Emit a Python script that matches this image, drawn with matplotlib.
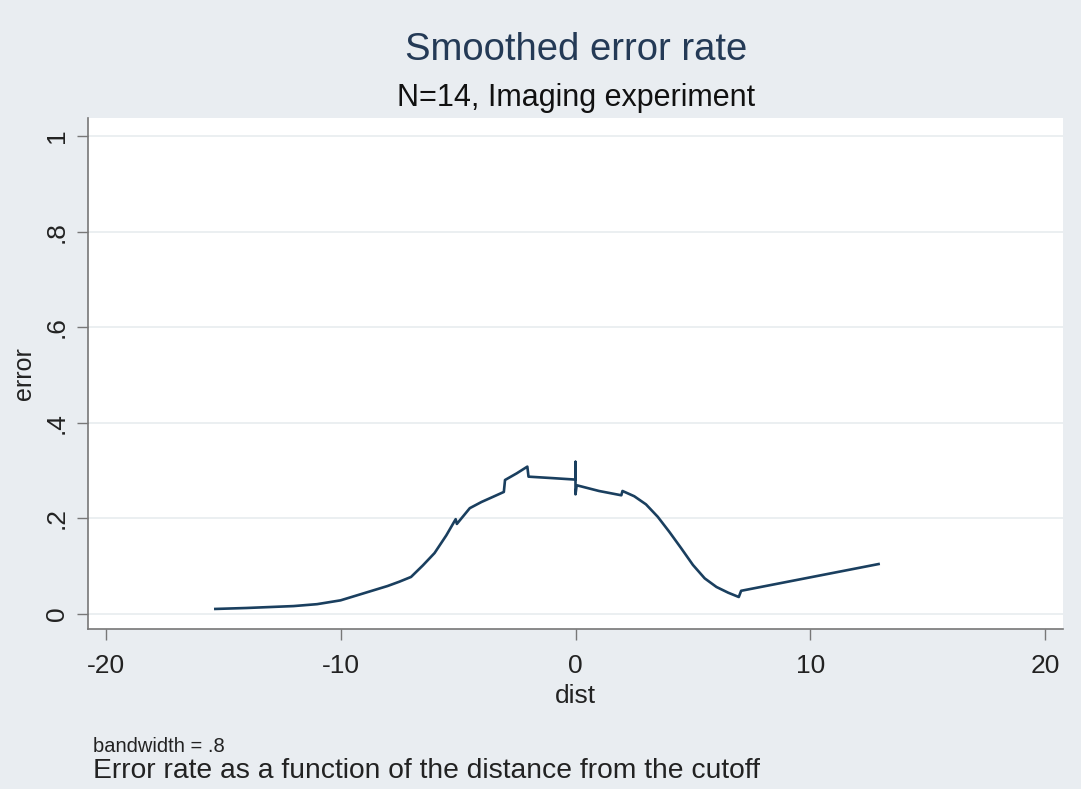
import matplotlib
matplotlib.use("Agg")
import matplotlib.pyplot as plt

# lowess curve (repeated x = the small jumps in the line)
dist = [-15.33, -14.0, -12.0, -11.0, -10.0, -9.0, -8.0, -7.5, -7.0, -6.5,
        -6.0, -5.5, -5.1, -5.05, -4.5, -4.0, -3.5, -3.05, -3.0, -2.5,
        -2.05, -2.0, -1.0, -0.05, 0.0, 0.0, 0.0, 0.05, 1.0, 1.95,
        2.0, 2.5, 3.0, 3.5, 4.0, 4.5, 5.0, 5.5, 6.0, 6.5,
        6.95, 7.05, 12.9]
error = [0.010, 0.012, 0.016, 0.020, 0.028, 0.043, 0.058, 0.067, 0.077, 0.101,
         0.127, 0.164, 0.198, 0.188, 0.221, 0.234, 0.245, 0.255, 0.280, 0.294,
         0.308, 0.287, 0.284, 0.281, 0.281, 0.318, 0.250, 0.269, 0.257, 0.248,
         0.257, 0.246, 0.229, 0.203, 0.171, 0.137, 0.102, 0.074, 0.056, 0.044,
         0.035, 0.048, 0.104]

xticks = [-20, -10, 0, 10, 20]
yticks = [0, 0.2, 0.4, 0.6, 0.8, 1.0]
ylabels = ["0", ".2", ".4", ".6", ".8", "1"]

bg = "#e9edf1"
fam = ["Liberation Sans", "DejaVu Sans"]

fig = plt.figure(figsize=(10.81, 7.89), dpi=100, facecolor=bg)
ax = fig.add_axes([88 / 1081, 1 - 629 / 789, (1063 - 88) / 1081, (629 - 118) / 789])
ax.set_facecolor("white")

ax.plot(dist, error, color="#1a3f5f", lw=1.9, solid_joinstyle="round")

ax.set_xlim(-20.75, 20.75)
ax.set_ylim(-0.032, 1.038)
ax.set_xticks(xticks)
ax.set_yticks(yticks)
ax.set_xticklabels([str(t) for t in xticks], family=fam, fontsize=19, color="#222222")
ax.set_yticklabels(ylabels, family=fam, fontsize=19, color="#222222",
                   rotation=90, va="center")
ax.tick_params(direction="out", length=8, width=1, color="#777777")
ax.tick_params(axis="x", pad=10)
ax.tick_params(axis="y", pad=6)
ax.grid(axis="y", color="#e8ecef", lw=1.2)
ax.set_axisbelow(True)
for s in ["top", "right"]:
    ax.spines[s].set_visible(False)
for s in ["left", "bottom"]:
    ax.spines[s].set_color("#777777")
    ax.spines[s].set_linewidth(1.2)

ax.set_xlabel("dist", family=fam, fontsize=19, color="#222222", labelpad=4)
ax.set_ylabel("error", family=fam, fontsize=18, color="#222222", labelpad=6)

fig.text(576 / 1081, 1 - 50 / 789, "Smoothed error rate", ha="center", va="center",
         family=fam, fontsize=27.5, color="#243a56")
fig.text(576 / 1081, 1 - 98 / 789, "N=14, Imaging experiment", ha="center", va="center",
         family=fam, fontsize=22, color="#111111")
fig.text(93 / 1081, 1 - 746 / 789, "bandwidth = .8", ha="left", va="center",
         family=fam, fontsize=14.5, color="#222222")
fig.text(93 / 1081, 1 - 771 / 789, "Error rate as a function of the distance from the cutoff",
         ha="left", va="center", family=fam, fontsize=20.3, color="#222222")

fig.savefig("out.png", dpi=100, facecolor=bg)
